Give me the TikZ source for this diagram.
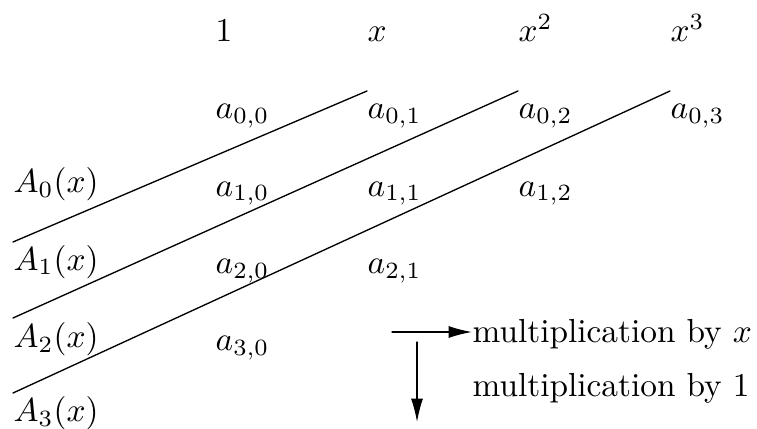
\documentclass[tikz,border=0pt]{standalone}
\usetikzlibrary{arrows.meta}

\begin{document}
\begin{tikzpicture}[x=0.3pt, y=-0.3pt, line cap=round,
    entry/.style={anchor=base west, inner sep=0pt},
    tip/.style={-{Latex[length=7pt,width=3.6pt]}}]
  \useasboundingbox (0,0) rectangle (757,428);
  % powers of x
  \node[entry] (p0) at (215,42) {$1$};
  \node[entry] (p1) at (367,42) {$x$};
  \node[entry] (p2) at (518,42) {$x^2$};
  \node[entry] (p3) at (670,42) {$x^3$};
  % coefficients
  \node[entry] (a00) at (215,119) {$a_{0,0}$};
  \node[entry] (a01) at (367,119) {$a_{0,1}$};
  \node[entry] (a02) at (518,119) {$a_{0,2}$};
  \node[entry] (a03) at (670,119) {$a_{0,3}$};
  \node[entry] (a10) at (215,196) {$a_{1,0}$};
  \node[entry] (a11) at (367,196) {$a_{1,1}$};
  \node[entry] (a12) at (518,196) {$a_{1,2}$};
  \node[entry] (a20) at (215,273) {$a_{2,0}$};
  \node[entry] (a21) at (367,273) {$a_{2,1}$};
  \node[entry] (a30) at (215,350) {$a_{3,0}$};
  % the series
  \node[entry] (A0) at (13,193) {$A_0(x)$};
  \node[entry] (A1) at (13,270) {$A_1(x)$};
  \node[entry] (A2) at (13,347) {$A_2(x)$};
  \node[entry] (A3) at (13,421) {$A_3(x)$};
  % diagonals
  \coordinate (s1) at (13,242); \coordinate (e1) at (367,91);
  \coordinate (s2) at (13,318); \coordinate (e2) at (518,91);
  \coordinate (s3) at (13,393); \coordinate (e3) at (670,91);
  \draw (s1) -- (e1);
  \draw (s2) -- (e2);
  \draw (s3) -- (e3);
  % legend
  \node[entry] (mx) at (472,342) {multiplication by $x$};
  \node[entry] (m1) at (472,396) {multiplication by $1$};
  \coordinate (r0) at (392,332);
  \coordinate (d0) at (417,342);
  \coordinate (d1) at (417,422);
  \draw[tip] (r0) -- (r0 -| mx.west);
  \draw[tip] (d0) -- (d1);
\end{tikzpicture}
\end{document}
